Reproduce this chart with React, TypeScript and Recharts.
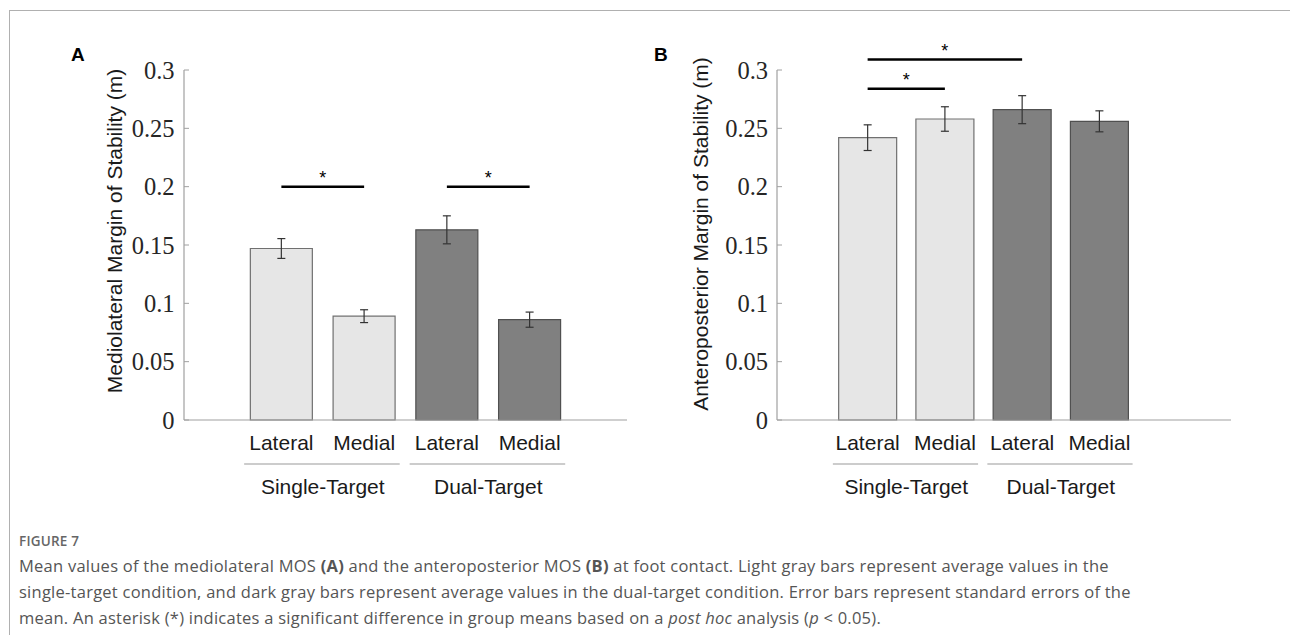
import React from "react";
import { BarChart, Bar, XAxis, YAxis, Cell, ErrorBar, ReferenceLine, Label } from "recharts";

const categories = ["Lateral", "Medial", "Lateral", "Medial"];
const groups = ["Single-Target", "Single-Target", "Dual-Target", "Dual-Target"];
const keys = ["st-lat", "st-med", "dt-lat", "dt-med"];

// mediolateral MOS (panel A)
const mlMean = [0.147, 0.089, 0.163, 0.086];
const mlSe = [0.0085, 0.0055, 0.012, 0.0065];
// anteroposterior MOS (panel B)
const apMean = [0.242, 0.258, 0.266, 0.256];
const apSe = [0.011, 0.0105, 0.012, 0.009];

const yTicks = [0, 0.05, 0.1, 0.15, 0.2, 0.25, 0.3];
const barFills = ["#e6e6e6", "#e6e6e6", "#808080", "#808080"];
const barStrokes = ["#707070", "#707070", "#505050", "#505050"];

// significance brackets: from/to category index, height in data units
const mlSig = [
  { from: 0, to: 1, y: 0.2 },
  { from: 2, to: 3, y: 0.2 },
];
const apSig = [
  { from: 0, to: 2, y: 0.309 },
  { from: 0, to: 1, y: 0.284 },
];

const SANS = "'Liberation Sans', Arial, sans-serif";
const SERIF = "'Liberation Serif', 'Times New Roman', serif";

function GroupTick(props: any) {
  const { x, y, band } = props;
  const i = props.index ?? props.payload?.index ?? 0;
  return (
    <g>
      <text x={x} y={y + 22} textAnchor="middle" dominantBaseline="central" fontSize={21} fontFamily={SANS} fill="#1a1a1a">
        {categories[i]}
      </text>
      {i % 2 === 0 && (
        <>
          <line x1={x - 0.45 * band} x2={x + band + 0.43 * band} y1={y + 44} y2={y + 44} stroke="#9a9a9a" strokeWidth={1.2} />
          <text x={x + band / 2} y={y + 66.5} textAnchor="middle" dominantBaseline="central" fontSize={21} fontFamily={SANS} fill="#1a1a1a">
            {groups[i]}
          </text>
        </>
      )}
    </g>
  );
}

function ValueTick(props: any) {
  const { x, y, payload } = props;
  return (
    <text x={x} y={y} textAnchor="end" dominantBaseline="central" fontSize={24.5} fontFamily={SERIF} fill="#262626">
      {String(payload.value)}
    </text>
  );
}

interface PanelProps {
  means: number[];
  ses: number[];
  sig: { from: number; to: number; y: number }[];
  yLabel: string;
  width: number;
  marginLeft: number;
  marginRight: number;
  padLeft: number;
  padRight: number;
  tickGap: number;
  labelX: number;
  labelY: number;
}

function Panel(p: PanelProps) {
  const data = keys.map((k, i) => ({ key: k, mean: p.means[i], se: p.ses[i] }));
  const plotW = p.width - p.marginLeft - 80 - p.marginRight;
  const band = (plotW - p.padLeft - p.padRight) / 4;
  return (
    <BarChart
      width={p.width}
      height={520}
      data={data}
      margin={{ top: 70, right: p.marginRight, bottom: 0, left: p.marginLeft }}
      barCategoryGap="12.5%"
    >
      <XAxis
        dataKey="key"
        type="category"
        interval={0}
        height={100}
        padding={{ left: p.padLeft, right: p.padRight }}
        axisLine={{ stroke: "#a0a0a0", strokeWidth: 1.2 }}
        tickLine={false}
        tickSize={0}
        tickMargin={0}
        tick={<GroupTick band={band} />}
      />
      <YAxis
        type="number"
        domain={[0, 0.3]}
        ticks={yTicks}
        interval={0}
        width={80}
        axisLine={{ stroke: "#a0a0a0", strokeWidth: 1.2 }}
        tickLine={{ stroke: "#a0a0a0" }}
        tickSize={-5}
        tickMargin={5 + p.tickGap}
        tick={<ValueTick />}
      >
        <Label
          content={() => (
            <text
              x={p.labelX}
              y={p.labelY}
              transform={`rotate(-90 ${p.labelX} ${p.labelY})`}
              textAnchor="middle"
              dominantBaseline="central"
              fontFamily={SANS}
              fontSize={21}
              fill="#1a1a1a"
            >
              {p.yLabel}
            </text>
          )}
        />
      </YAxis>
      <Bar dataKey="mean" isAnimationActive={false} strokeWidth={1.2}>
        {data.map((d, i) => (
          <Cell key={d.key} fill={barFills[i]} stroke={barStrokes[i]} />
        ))}
        <ErrorBar dataKey="se" width={4} stroke="#333" strokeWidth={1.2} direction="y" isAnimationActive={false} />
      </Bar>
      {p.sig.map((s, i) => (
        <ReferenceLine
          key={i}
          segment={[
            { x: keys[s.from], y: s.y },
            { x: keys[s.to], y: s.y },
          ]}
          stroke="#000"
          strokeWidth={2.5}
          ifOverflow="visible"
          label={{ value: "*", position: "top", offset: 3, fontSize: 18, fontFamily: SANS, fill: "#000" }}
        />
      ))}
    </BarChart>
  );
}

export default function App() {
  return (
    <div style={{ position: "absolute", left: 0, top: 0, width: 1290, height: 635, background: "#fff", overflow: "hidden", fontFamily: SANS }}>
      <div style={{ position: "absolute", left: 9, top: 10, right: 0, height: 0, borderTop: "1.5px solid #b0b0b0" }} />
      <div style={{ position: "absolute", left: 9, top: 10, bottom: 0, width: 0, borderLeft: "1.5px solid #b0b0b0" }} />

      <div style={{ position: "absolute", left: 71, top: 44, fontSize: 19, fontWeight: 700, color: "#000" }}>A</div>
      <div style={{ position: "absolute", left: 654, top: 44, fontSize: 19, fontWeight: 700, color: "#000" }}>B</div>

      <div style={{ position: "absolute", left: 0, top: 0 }}>
        <Panel
          means={mlMean}
          ses={mlSe}
          sig={mlSig}
          yLabel="Mediolateral Margin of Stability (m)"
          width={640}
          marginLeft={104}
          marginRight={13}
          padLeft={56}
          padRight={56}
          tickGap={9.5}
          labelX={114}
          labelY={231}
        />
      </div>
      <div style={{ position: "absolute", left: 640, top: 0 }}>
        <Panel
          means={apMean}
          ses={apSe}
          sig={apSig}
          yLabel="Anteroposterior Margin of Stability (m)"
          width={650}
          marginLeft={57}
          marginRight={59}
          padLeft={52}
          padRight={93}
          tickGap={9}
          labelX={60}
          labelY={234}
        />
      </div>

      <div style={{ position: "absolute", left: 19, top: 532, fontFamily: "'Open Sans', sans-serif", fontSize: 13.5, fontWeight: 600, color: "#666", letterSpacing: 0.2 }}>
        FIGURE 7
      </div>
      <div style={{ position: "absolute", left: 19, top: 553, fontFamily: "'Open Sans', sans-serif", fontSize: 16.5, letterSpacing: 0.25, lineHeight: "26px", color: "#555", whiteSpace: "nowrap" }}>
        Mean values of the mediolateral MOS <b>(A)</b> and the anteroposterior MOS <b>(B)</b> at foot contact. Light gray bars represent average values in the
        <br />
        single-target condition, and dark gray bars represent average values in the dual-target condition. Error bars represent standard errors of the
        <br />
        mean. An asterisk (*) indicates a significant difference in group means based on a <i>post hoc</i> analysis (<i>p</i> &lt; 0.05).
      </div>
    </div>
  );
}
